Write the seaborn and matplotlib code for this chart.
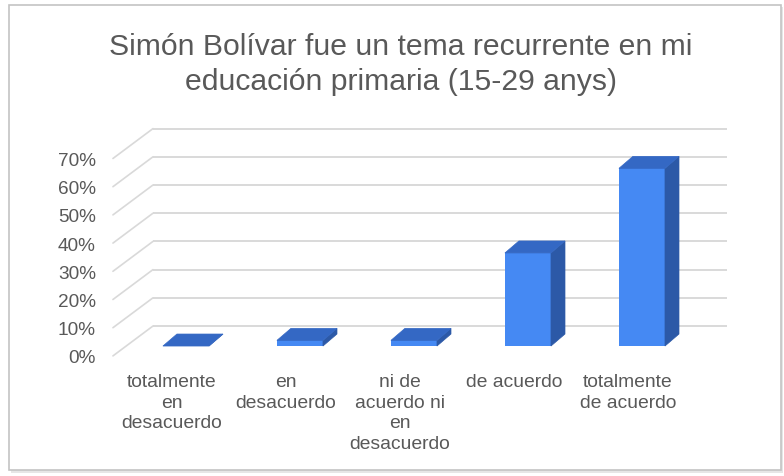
import matplotlib
matplotlib.use("Agg")
import matplotlib.pyplot as plt
from matplotlib.patches import Polygon, Rectangle
import seaborn as sns
import pandas as pd

# ---- data ----
categories = ["totalmente\nen\ndesacuerdo", "en\ndesacuerdo",
              "ni de\nacuerdo ni\nen\ndesacuerdo", "de acuerdo",
              "totalmente\nde acuerdo"]
values = [0.00, 0.02, 0.02, 0.33, 0.63]
y_ticks = [0.0, 0.1, 0.2, 0.3, 0.4, 0.5, 0.6, 0.7]
y_tick_labels = ["0%", "10%", "20%", "30%", "40%", "50%", "60%", "70%"]
title_lines = ["Simón Bolívar fue un tema recurrente en mi",
               "educación primaria (15-29 anys)"]

# ---- style ----
sns.set_theme(style="white")
plt.rcParams["font.family"] = ["Liberation Sans", "DejaVu Sans"]
TXT = "#595959"
FRONT = "#4589F3"
TOP = "#3468C4"
SIDE = "#2C59A7"
GRID = "#D9D9D9"

W, H = 784, 477
fig = plt.figure(figsize=(W / 100, H / 100), dpi=100)
fig.patch.set_facecolor("white")

# chart frame with soft shadow
fig.patches.append(Rectangle((11 / W, 3 / H), (772) / W, (466) / H, transform=fig.transFigure,
                             facecolor="#E6E6E6", edgecolor="none", zorder=-2))
fig.patches.append(Rectangle((9 / W, 6 / H), (772) / W, (465) / H, transform=fig.transFigure,
                             facecolor="white", edgecolor="#C4C4C4", lw=1.2, zorder=-1))

ax = fig.add_axes([100 / W, (H - 360) / H, 640 / W, 240 / H])
ax.set_zorder(1)
ax.set_facecolor("none")

df = pd.DataFrame({"cat": categories, "val": values})
sns.barplot(data=df, x="cat", y="val", color=FRONT, saturation=1, width=0.404,
            ax=ax, zorder=3, linewidth=0)

dx, dy = 14 / 114, 12 / 282
back_off = 20 / 282
front_off = -0.035
x_back0, x_back1 = (153 - 186) / 114, (727 - 186) / 114
x_front = (113 - 186) / 114

# back wall gridlines + diagonal side-wall lines
for v in y_ticks:
    ax.plot([x_back0, x_back1], [v + back_off] * 2, color=GRID, lw=1.4, zorder=1,
            solid_capstyle="butt")
    ax.plot([x_front, x_back0], [v + front_off, v + back_off], color=GRID, lw=1.2, zorder=1)

# 3D faces on each bar
for p in list(ax.patches):
    x, w, h = p.get_x(), p.get_width(), p.get_height()
    top = Polygon([(x, h), (x + w, h), (x + w + dx, h + dy), (x + dx, h + dy)],
                  closed=True, facecolor=TOP, edgecolor=TOP, lw=0.5, zorder=4)
    side = Polygon([(x + w, 0), (x + w + dx, dy), (x + w + dx, h + dy), (x + w, h)],
                   closed=True, facecolor=SIDE, edgecolor=SIDE, lw=0.5, zorder=4)
    ax.add_patch(side)
    ax.add_patch(top)

ax.set_xlim(-0.754, 4.86)
ax.set_ylim(-0.046, 0.805)

ax.set_yticks([v + front_off for v in y_ticks])
ax.set_yticklabels(y_tick_labels)
ax.set_xticks([i - 0.125 for i in range(len(categories))])
ax.set_xticklabels(categories, linespacing=1.28)
ax.tick_params(axis="y", length=0, pad=3, labelsize=13.7, labelcolor=TXT)
ax.tick_params(axis="x", length=0, pad=10, labelsize=13.9, labelcolor=TXT)
ax.set_xlabel("")
ax.set_ylabel("")
for s in ax.spines.values():
    s.set_visible(False)

for ypix, line in zip([47, 82], title_lines):
    fig.text(401 / W, 1 - ypix / H, line, ha="center", va="center", fontsize=21.7,
             color=TXT)

fig.savefig("out.png", dpi=100, facecolor="white")
